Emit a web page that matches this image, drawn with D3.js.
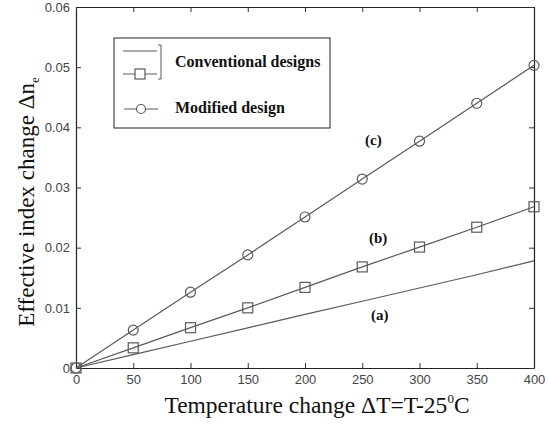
<!DOCTYPE html>
<html>
<head>
  <style>
    body { margin: 0; padding: 0; background: #fff; }
    svg { display: block; }
    .tick text { font-family: Arial, "Liberation Sans", sans-serif; font-size: 13px; fill: #444; }
    .serif { font-family: "Liberation Serif", "Times New Roman", serif; }
  </style>
</head>
<body>
  <div id="chart"></div>
  <script src="https://cdnjs.cloudflare.com/ajax/libs/d3/7.8.5/d3.min.js"></script>
  <script>
    const temps = [0, 50, 100, 150, 200, 250, 300, 350, 400];
    const seriesA = [0, 0.00222, 0.00445, 0.00667, 0.0089, 0.0111, 0.0133, 0.0155, 0.0178];
    const seriesB = [0, 0.00335, 0.0067, 0.0100, 0.0134, 0.0168, 0.0201, 0.0234, 0.0268];
    const seriesC = [0, 0.0063, 0.0126, 0.0188, 0.0251, 0.0314, 0.0377, 0.0440, 0.0503];
    const xTicks = [0, 50, 100, 150, 200, 250, 300, 350, 400];
    const yTicks = [0, 0.01, 0.02, 0.03, 0.04, 0.05, 0.06];

    const width = 548, height = 427;
    const margin = { left: 76, right: 14, top: 7, bottom: 59 };
    const plotW = width - margin.left - margin.right;
    const plotH = height - margin.top - margin.bottom;

    const svg = d3.select('#chart').append('svg')
      .attr('width', width).attr('height', height);
    const g = svg.append('g').attr('transform', `translate(${margin.left},${margin.top})`);

    const x = d3.scaleLinear().domain([0, 400]).range([0, plotW]);
    const y = d3.scaleLinear().domain([0, 0.06]).range([plotH, 0]);

    const fmtY = d => d === 0 ? '0' : d3.format('.2f')(d);

    // axes, ticks point inward
    g.append('g').attr('transform', `translate(0,${plotH})`)
      .call(d3.axisBottom(x).tickValues(xTicks).tickSizeInner(-5).tickSizeOuter(0).tickPadding(7));
    g.append('g')
      .call(d3.axisLeft(y).tickValues(yTicks).tickFormat(fmtY).tickSizeInner(-5).tickSizeOuter(0).tickPadding(6));
    g.append('g')
      .call(d3.axisTop(x).tickValues(xTicks).tickFormat('').tickSizeInner(-5).tickSizeOuter(0));
    g.append('g').attr('transform', `translate(${plotW},0)`)
      .call(d3.axisRight(y).tickValues(yTicks).tickFormat('').tickSizeInner(-5).tickSizeOuter(0));
    g.selectAll('.domain').attr('stroke', '#222').attr('stroke-width', 1.2);
    g.selectAll('.tick line').attr('stroke', '#333');

    const line = d3.line().x((d, i) => x(temps[i])).y(d => y(d));
    const lineColor = '#5a5a5a';

    [seriesA, seriesB, seriesC].forEach(s => {
      g.append('path').datum(s).attr('d', line)
        .attr('fill', 'none').attr('stroke', lineColor).attr('stroke-width', 1.2);
    });

    g.selectAll('.sq').data(seriesB).enter().append('rect')
      .attr('x', (d, i) => x(temps[i]) - 5).attr('y', d => y(d) - 5)
      .attr('width', 10).attr('height', 10)
      .attr('fill', 'none').attr('stroke', lineColor).attr('stroke-width', 1.2);
    g.selectAll('.ci').data(seriesC).enter().append('circle')
      .attr('cx', (d, i) => x(temps[i])).attr('cy', d => y(d)).attr('r', 5)
      .attr('fill', 'none').attr('stroke', lineColor).attr('stroke-width', 1.2);

    // curve labels
    const labels = [
      { t: '(c)', px: 289, py: 0.0370 },
      { t: '(b)', px: 293, py: 0.0208 },
      { t: '(a)', px: 295, py: 0.0079 }
    ];
    g.selectAll('.lab').data(labels).enter().append('text')
      .attr('class', 'serif')
      .attr('x', d => d.px).attr('y', d => y(d.py))
      .attr('font-size', 15).attr('font-weight', 'bold').attr('fill', '#111')
      .text(d => d.t);

    // legend
    const lg = svg.append('g');
    lg.append('rect').attr('x', 114).attr('y', 38).attr('width', 216).attr('height', 90)
      .attr('fill', '#fff').attr('stroke', '#222').attr('stroke-width', 1);
    lg.append('line').attr('x1', 123).attr('x2', 157).attr('y1', 51).attr('y2', 51).attr('stroke', lineColor);
    lg.append('line').attr('x1', 123).attr('x2', 157).attr('y1', 74).attr('y2', 74).attr('stroke', lineColor);
    lg.append('rect').attr('x', 135).attr('y', 69).attr('width', 10).attr('height', 10)
      .attr('fill', '#fff').attr('stroke', lineColor).attr('stroke-width', 1.2);
    lg.append('path').attr('d', 'M158,45 L161,45 L161,79 L158,79')
      .attr('fill', 'none').attr('stroke', lineColor);
    lg.append('line').attr('x1', 124).attr('x2', 158).attr('y1', 109).attr('y2', 109).attr('stroke', lineColor);
    lg.append('circle').attr('cx', 141).attr('cy', 109).attr('r', 4.5)
      .attr('fill', '#fff').attr('stroke', lineColor).attr('stroke-width', 1.2);
    lg.append('text').attr('class', 'serif').attr('x', 175).attr('y', 67)
      .attr('font-size', 16).attr('font-weight', 'bold').attr('fill', '#111').text('Conventional designs');
    lg.append('text').attr('class', 'serif').attr('x', 175).attr('y', 113)
      .attr('font-size', 16).attr('font-weight', 'bold').attr('fill', '#111').text('Modified design');

    // axis titles
    const xt = svg.append('text').attr('class', 'serif')
      .attr('x', 317).attr('y', 413).attr('text-anchor', 'middle')
      .attr('font-size', 23.5).attr('fill', '#111');
    xt.append('tspan').text('Temperature change \u0394T=T-25');
    xt.append('tspan').attr('font-size', 13).attr('dy', -10).text('0');
    xt.append('tspan').attr('dy', 10).text('C');

    const yt = svg.append('text').attr('class', 'serif')
      .attr('transform', 'translate(34,202) rotate(-90)').attr('text-anchor', 'middle')
      .attr('font-size', 23).attr('fill', '#111');
    yt.append('tspan').text('Effective index change \u0394n');
    yt.append('tspan').attr('font-size', 13).attr('dy', 5).text('e');
  </script>
</body>
</html>
